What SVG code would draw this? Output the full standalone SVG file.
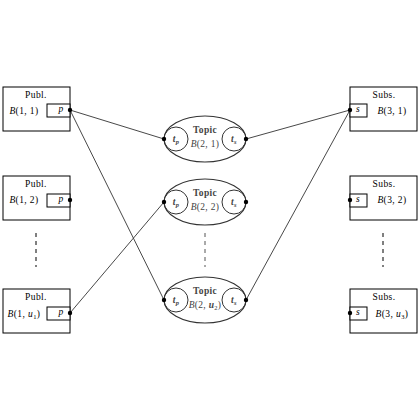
<svg xmlns="http://www.w3.org/2000/svg" width="420" height="420" viewBox="0 0 420 420">
<style>
.box{fill:#fff;stroke:#000;stroke-width:1}
.port{fill:#fff;stroke:#000;stroke-width:1}
.ell{fill:#fff;stroke:#333;stroke-width:1.2}
.circ{fill:none;stroke:#333;stroke-width:1}
.t{font-family:"Liberation Serif","DejaVu Serif",serif;font-size:9.5px;fill:#000;text-anchor:middle;letter-spacing:0.4px}
.tg{font-family:"Liberation Serif","DejaVu Serif",serif;font-size:9.5px;fill:#444;text-anchor:middle;letter-spacing:0.3px}
.i{font-style:italic}
.sub{font-size:6.5px}
.dot{fill:#000}
.edge{stroke:#333;stroke-width:0.9;fill:none}
.dash{stroke:#000;stroke-width:1;stroke-dasharray:4,4}
</style>
<g id="connectors">
<line class="edge" x1="70" y1="110" x2="164" y2="139"/>
<line class="edge" x1="70" y1="110" x2="164" y2="300"/>
<line class="edge" x1="246" y1="139" x2="350" y2="110"/>
<line class="edge" x1="246" y1="300" x2="350" y2="110"/>
<line class="edge" x1="70" y1="313" x2="164" y2="202"/>
</g>
<g id="dashes">
<line class="dash" x1="36" y1="233" x2="36" y2="267"/>
<line class="dash" x1="205" y1="233" x2="205" y2="267" style="stroke:#555"/>
<line class="dash" x1="383" y1="233" x2="383" y2="267"/>
</g>
<g id="pub1">
<rect class="box" x="3" y="87" width="67" height="44"/>
<text class="t" x="36" y="98" fill="#000">Publ.</text>
<text class="t" x="24" y="114" fill="#000"><tspan class="i">B</tspan>(1, 1)</text>
<rect class="port" x="47" y="104" width="23" height="13"/>
<text class="t i" x="61" y="112" fill="#000">p</text>
<circle class="dot" cx="70" cy="110" r="2.2"/>
</g>
<g id="pub2">
<rect class="box" x="3" y="176" width="67" height="44"/>
<text class="t" x="36" y="187" fill="#000">Publ.</text>
<text class="t" x="24" y="203" fill="#000"><tspan class="i">B</tspan>(1, 2)</text>
<rect class="port" x="47" y="194" width="23" height="13"/>
<text class="t i" x="61" y="202" fill="#000">p</text>
<circle class="dot" cx="70" cy="200" r="2.2"/>
</g>
<g id="pub3">
<rect class="box" x="3" y="289" width="67" height="44"/>
<text class="t" x="36" y="300" fill="#000">Publ.</text>
<text class="t" x="24" y="317" fill="#000"><tspan class="i">B</tspan>(1, <tspan class="i">u</tspan><tspan class="sub" dy="2">1</tspan><tspan dy="-2">)</tspan></text>
<rect class="port" x="47" y="307" width="23" height="13"/>
<text class="t i" x="61" y="315" fill="#000">p</text>
<circle class="dot" cx="70" cy="313" r="2.2"/>
</g>
<g id="sub1">
<rect class="box" x="350" y="87" width="67" height="44"/>
<text class="t" x="384" y="98" fill="#000">Subs.</text>
<text class="t" x="392" y="114" fill="#000"><tspan class="i">B</tspan>(3, 1)</text>
<rect class="port" x="350" y="104" width="17" height="13"/>
<text class="t i" x="358" y="112" fill="#000">s</text>
<circle class="dot" cx="350" cy="110" r="2.2"/>
</g>
<g id="sub2">
<rect class="box" x="350" y="176" width="67" height="44"/>
<text class="t" x="384" y="187" fill="#000">Subs.</text>
<text class="t" x="392" y="203" fill="#000"><tspan class="i">B</tspan>(3, 2)</text>
<rect class="port" x="350" y="194" width="17" height="13"/>
<text class="t i" x="358" y="202" fill="#000">s</text>
<circle class="dot" cx="350" cy="200" r="2.2"/>
</g>
<g id="sub3">
<rect class="box" x="350" y="289" width="67" height="44"/>
<text class="t" x="384" y="300" fill="#000">Subs.</text>
<text class="t" x="392" y="317" fill="#000"><tspan class="i">B</tspan>(3, <tspan class="i">u</tspan><tspan class="sub" dy="2">3</tspan><tspan dy="-2">)</tspan></text>
<rect class="port" x="350" y="307" width="17" height="13"/>
<text class="t i" x="358" y="315" fill="#000">s</text>
<circle class="dot" cx="350" cy="313" r="2.2"/>
</g>
<g id="topic1">
<ellipse class="ell" cx="205" cy="139" rx="41" ry="23"/>
<circle class="circ" cx="176" cy="139" r="12"/>
<circle class="circ" cx="234" cy="139" r="12"/>
<text class="tg" x="205" y="133" fill="#444" style="font-weight:bold">Topic</text>
<text class="tg" x="205" y="147" fill="#444"><tspan class="i">B</tspan>(2, 1)</text>
<text class="tg i" x="176" y="142" fill="#444" style="font-weight:bold">t<tspan class="sub" dy="2">p</tspan></text>
<text class="tg i" x="234" y="142" fill="#444" style="font-weight:bold">t<tspan class="sub" dy="2">s</tspan></text>
<circle class="dot" cx="164" cy="139" r="2.2"/>
<circle class="dot" cx="246" cy="139" r="2.2"/>
</g>
<g id="topic2">
<ellipse class="ell" cx="205" cy="202" rx="41" ry="23"/>
<circle class="circ" cx="176" cy="202" r="12"/>
<circle class="circ" cx="234" cy="202" r="12"/>
<text class="tg" x="205" y="196" fill="#444" style="font-weight:bold">Topic</text>
<text class="tg" x="205" y="210" fill="#444"><tspan class="i">B</tspan>(2, 2)</text>
<text class="tg i" x="176" y="205" fill="#444" style="font-weight:bold">t<tspan class="sub" dy="2">p</tspan></text>
<text class="tg i" x="234" y="205" fill="#444" style="font-weight:bold">t<tspan class="sub" dy="2">s</tspan></text>
<circle class="dot" cx="164" cy="202" r="2.2"/>
<circle class="dot" cx="246" cy="202" r="2.2"/>
</g>
<g id="topic3">
<ellipse class="ell" cx="205" cy="300" rx="41" ry="23"/>
<circle class="circ" cx="176" cy="300" r="12"/>
<circle class="circ" cx="234" cy="300" r="12"/>
<text class="tg" x="205" y="294" fill="#444" style="font-weight:bold">Topic</text>
<text class="tg" x="205" y="308" fill="#444"><tspan class="i">B</tspan>(2, <tspan class="i" style="font-weight:bold">u</tspan><tspan class="sub" dy="2">2</tspan><tspan dy="-2">)</tspan></text>
<text class="tg i" x="176" y="303" fill="#444" style="font-weight:bold">t<tspan class="sub" dy="2">p</tspan></text>
<text class="tg i" x="234" y="303" fill="#444" style="font-weight:bold">t<tspan class="sub" dy="2">s</tspan></text>
<circle class="dot" cx="164" cy="300" r="2.2"/>
<circle class="dot" cx="246" cy="300" r="2.2"/>
</g>
</svg>
